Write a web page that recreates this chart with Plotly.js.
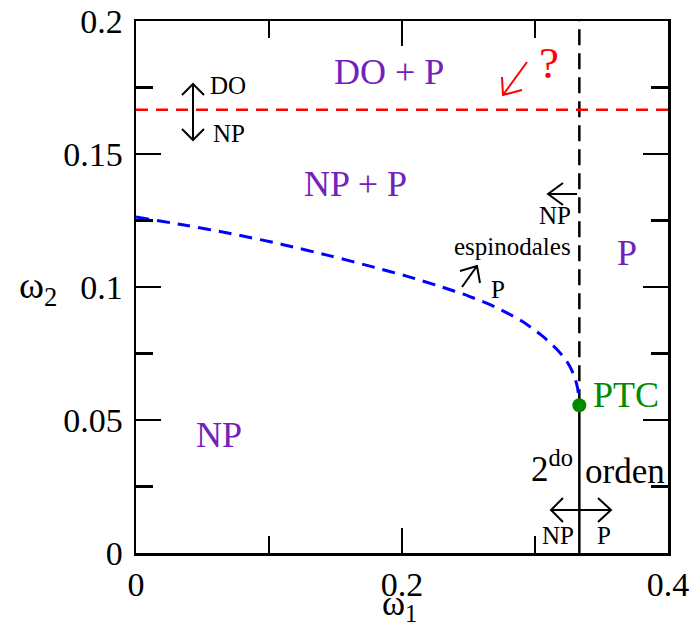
<!DOCTYPE html>
<html>
<head>
<meta charset="utf-8">
<script src="https://cdn.plot.ly/plotly-3.0.1.min.js"></script>
<style>html,body{margin:0;padding:0;background:#fff;}#chart{width:694px;height:629px;}</style>
</head>
<body>
<div id="chart"></div>
<script>
// ---- data ----
const spinodalX = [0, 0.035, 0.07, 0.11, 0.146, 0.18, 0.204, 0.23, 0.25, 0.27, 0.29, 0.305, 0.316, 0.324, 0.329, 0.332, 0.3333];
const spinodalY = [0.1263, 0.1234, 0.1202, 0.1160, 0.1117, 0.1073, 0.1040, 0.1000, 0.0966, 0.0925, 0.0872, 0.0818, 0.0768, 0.0720, 0.0672, 0.0620, 0.0556];
const redLineX = [0, 0.4];
const redLineY = [0.16667, 0.16667];
const firstOrderX = [0.33333, 0.33333];
const firstOrderY = [0.05556, 0.2];
const secondOrderX = [0.33333, 0.33333];
const secondOrderY = [0, 0.05556];
const ptcX = [0.33333];
const ptcY = [0.05556];
const xTicks = [0, 0.2, 0.4];
const yTicks = [0, 0.05, 0.1, 0.15, 0.2];

const SERIF = '"Liberation Serif", "Times New Roman", Times, serif';
const INDIGO = '#7221bc';
const GREEN = '#008b00';

// pixel -> paper helpers for decorations
const L = 136, B = 553, W = 532, H = 532;
const px = x => (x - L) / W;
const py = y => (B - y) / H;

const traces = [
  {x: secondOrderX, y: secondOrderY, mode: 'lines', line: {color: 'black', width: 2.5}, hoverinfo: 'skip'},
  {x: firstOrderX, y: firstOrderY, mode: 'lines', line: {color: 'black', width: 2.5, dash: '16px,8px'}, hoverinfo: 'skip'},
  {x: redLineX, y: redLineY, mode: 'lines', line: {color: '#ff0000', width: 2.5, dash: '12px,8px'}, hoverinfo: 'skip'},
  {x: spinodalX, y: spinodalY, mode: 'lines', line: {color: '#0000ff', width: 3, dash: '13px,8px', shape: 'spline', smoothing: 0.8}, hoverinfo: 'skip'},
  {x: ptcX, y: ptcY, mode: 'markers', marker: {color: GREEN, size: 14}, hoverinfo: 'skip'}
];

const arrows = [
  {color: 'black', segs: [[[193,84],[193,140]], [[182,95],[193,84],[204,95]], [[182,129],[193,140],[204,129]]]},
  {color: '#ff0000', segs: [[[527,62],[503,95]], [[502,77],[503,95],[522,90]]]},
  {color: 'black', segs: [[[577,194],[548,194]], [[563,183],[548,194],[563,205]]]},
  {color: 'black', segs: [[[462,287],[477,266]], [[460,271],[477,266],[480,283]]]},
  {color: 'black', segs: [[[551,510],[611,510]], [[563,498],[551,510],[563,522]], [[598,498],[611,510],[598,522]]]}
];
const shapes = arrows.map(a => ({
  type: 'path', xref: 'paper', yref: 'paper',
  path: a.segs.map(s => s.map((p, i) => (i ? 'L' : 'M') + px(p[0]).toFixed(5) + ',' + py(p[1]).toFixed(5)).join(' ')).join(' '),
  line: {color: a.color, width: 2}
}));

const labels = [
  {t: 'DO + P', x: 389, y: 72, s: 36, c: INDIGO},
  {t: 'NP + P', x: 355, y: 184, s: 36, c: INDIGO},
  {t: 'NP', x: 219, y: 435, s: 36, c: INDIGO},
  {t: 'P', x: 627, y: 253, s: 36, c: INDIGO},
  {t: 'PTC', x: 626, y: 395, s: 36, c: GREEN},
  {t: 'espinodales', x: 512, y: 246, s: 25, c: 'black'},
  {t: 'NP', x: 555, y: 216, s: 25, c: 'black'},
  {t: 'P', x: 498, y: 289, s: 25, c: 'black'},
  {t: 'DO', x: 228, y: 86, s: 25, c: 'black'},
  {t: 'NP', x: 229, y: 133, s: 25, c: 'black'},
  {t: '?', x: 549, y: 63, s: 45, c: '#ff0000'},
  {t: 'orden', x: 625, y: 471, s: 35, c: 'black'},
  {t: 'NP', x: 558, y: 535, s: 25, c: 'black'},
  {t: 'P', x: 604, y: 535, s: 25, c: 'black'}
];
const annotations = labels.map(a => ({
  text: a.t, xref: 'paper', yref: 'paper', x: px(a.x), y: py(a.y),
  xanchor: 'center', yanchor: 'middle', showarrow: false,
  font: {family: SERIF, size: a.s, color: a.c}
}));
annotations.push({
  text: '2<sup>do</sup>', xref: 'paper', yref: 'paper', x: px(529), y: py(466),
  xanchor: 'left', yanchor: 'middle', showarrow: false,
  font: {family: SERIF, size: 35, color: 'black'}
});
annotations.push({
  text: 'ω<sub>2</sub>', xref: 'paper', yref: 'paper', x: px(38), y: py(288),
  xanchor: 'center', yanchor: 'middle', showarrow: false,
  font: {family: SERIF, size: 38, color: 'black'}
});
annotations.push({
  text: 'ω<sub>1</sub>', xref: 'paper', yref: 'paper', x: px(399), y: py(605),
  xanchor: 'center', yanchor: 'middle', showarrow: false,
  font: {family: SERIF, size: 35, color: 'black'}
});

const axisCommon = {
  showgrid: false, zeroline: false, showline: true, linecolor: 'black', linewidth: 2.5,
  mirror: 'ticks', ticks: 'inside', ticklen: 25, tickwidth: 2.5, tickcolor: 'black',
  tickfont: {family: SERIF, size: 34, color: 'black'}, tickmode: 'array'
};

const layout = {
  width: 694, height: 629,
  margin: {l: 136, r: 26, t: 21, b: 76, pad: 0},
  paper_bgcolor: 'white', plot_bgcolor: 'white',
  font: {family: SERIF, color: 'black'},
  showlegend: false,
  xaxis: Object.assign({}, axisCommon, {
    range: [0, 0.4], tickvals: xTicks, ticktext: xTicks.map(String),
    minor: {dtick: 0.1, ticks: 'inside', ticklen: 17, tickwidth: 2.5, tickcolor: 'black', showgrid: false}
  }),
  yaxis: Object.assign({}, axisCommon, {
    range: [0, 0.2], tickvals: yTicks, ticktext: yTicks.map(String), ticklabelstandoff: 4,
    minor: {dtick: 0.025, ticks: 'inside', ticklen: 17, tickwidth: 2.5, tickcolor: 'black', showgrid: false}
  }),
  shapes: shapes,
  annotations: annotations
};

Plotly.newPlot('chart', traces, layout, {displayModeBar: false, staticPlot: true});
</script>
</body>
</html>
